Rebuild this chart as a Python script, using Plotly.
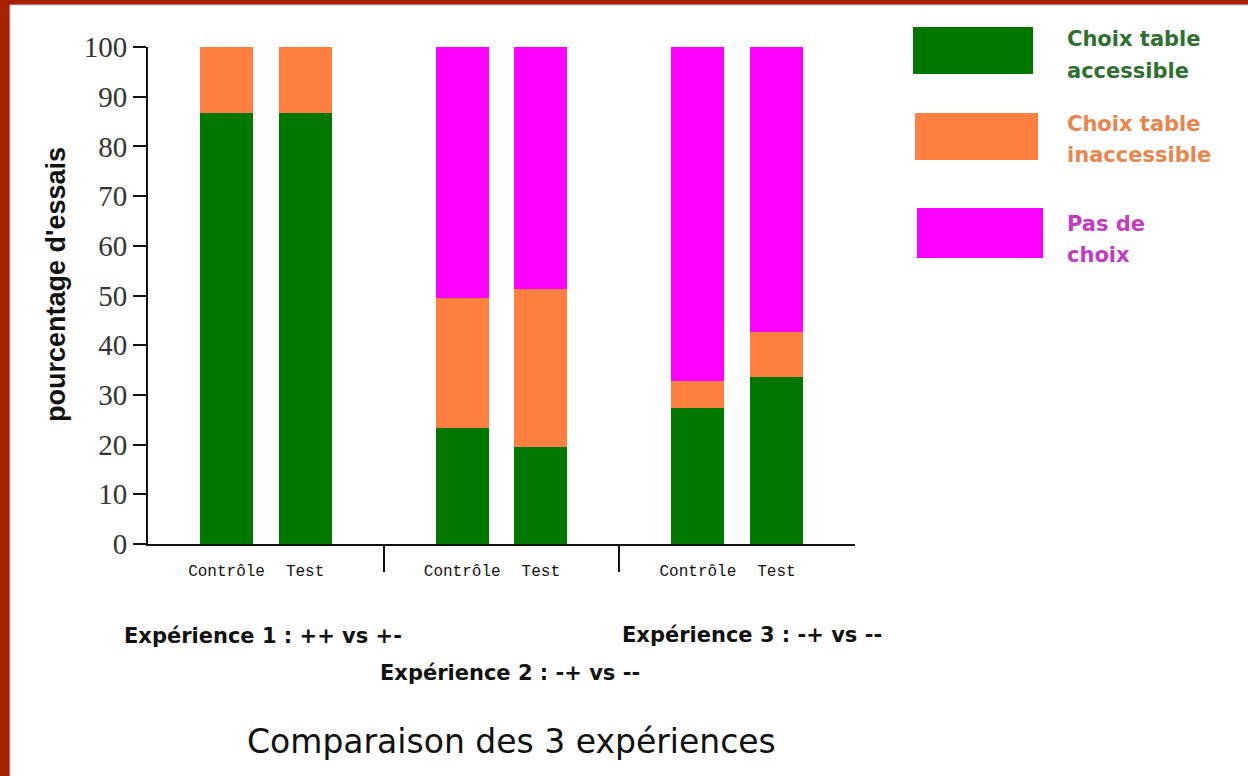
import plotly.graph_objects as go

# ---- data ----
experiences = ["Expérience 1", "Expérience 2", "Expérience 3"]
conditions = ["Contrôle", "Test"]
accessible = [86.7, 86.7, 23.3, 19.5, 27.4, 33.6]
inaccessible = [13.3, 13.3, 26.2, 31.8, 5.4, 9.1]
pas_de_choix = [0.0, 0.0, 50.5, 48.7, 67.2, 57.3]
exp_labels = ["Expérience 1 : ++ vs +-", "Expérience 2 : -+ vs --", "Expérience 3 : -+ vs --"]
series_names = ["Choix table accessible", "Choix table inaccessible", "Pas de choix"]
legend_lines = [["Choix table", "accessible"], ["Choix table", "inaccessible"], ["Pas de", "choix"]]
y_ticks = list(range(0, 101, 10))
chart_title = "Comparaison des 3 expériences"
y_title = "pourcentage d'essais"

# ---- layout helpers ----
W, H = 1248, 776
def px(x):
    return x / W
def py(y):
    return 1 - y / H

GREEN = "#007800"
ORANGE = "#FF7F40"
MAGENTA = "#FF00FF"
colors = [GREEN, ORANGE, MAGENTA]

# x positions: groups separated by a gap of one slot
xpos = [g * 3 + c + 1 for g in range(len(experiences)) for c in range(len(conditions))]
xtext = [c for _ in experiences for c in conditions]

fig = go.Figure()
for name, vals, col in zip(series_names, [accessible, inaccessible, pas_de_choix], colors):
    fig.add_trace(go.Bar(
        x=xpos, y=vals, name=name, width=0.675,
        marker=dict(color=col, line=dict(width=0)),
        showlegend=False,
    ))

shapes = []
# white page area over dark red border
shapes.append(dict(type="rect", xref="paper", yref="paper",
                   x0=px(10), x1=px(W + 5), y0=py(H + 5), y1=py(5),
                   fillcolor="white", line=dict(color="#A9CBF2", width=1), layer="below"))
# legend swatches
sw = [(913, 27, 1033, 74), (915, 113, 1038, 160), (917, 208, 1043, 258)]
for (x0, y0, x1, y1), col in zip(sw, colors):
    shapes.append(dict(type="rect", xref="paper", yref="paper",
                       x0=px(x0), x1=px(x1), y0=py(y1), y1=py(y0),
                       fillcolor=col, line=dict(width=0)))

annotations = []
legend_text_colors = ["#2E7030", "#E8864E", "#C23CC2"]
legend_line_y = [(39, 71), (124, 155), (224, 255)]
for lines, c, ys in zip(legend_lines, legend_text_colors, legend_line_y):
    for t, yc in zip(lines, ys):
        annotations.append(dict(text=t, xref="paper", yref="paper", x=px(1065), y=py(yc),
                                xanchor="left", yanchor="middle", align="left", showarrow=False,
                                font=dict(family="DejaVu Sans", size=21, color=c, weight="bold")))

exp_pos = [(263, 636), (510, 673), (752, 635)]
for t, (x, y) in zip(exp_labels, exp_pos):
    annotations.append(dict(text=t, xref="paper", yref="paper", x=px(x), y=py(y),
                            xanchor="center", yanchor="middle", showarrow=False,
                            font=dict(family="DejaVu Sans", size=21, color="#111", weight="bold")))

annotations.append(dict(text=chart_title, xref="paper", yref="paper", x=px(511), y=py(741),
                        xanchor="center", yanchor="middle", showarrow=False,
                        font=dict(family="DejaVu Sans", size=33, color="#111")))
annotations.append(dict(text=y_title, xref="paper", yref="paper", x=px(56), y=py(285),
                        xanchor="center", yanchor="middle", showarrow=False, textangle=-90,
                        font=dict(family="Liberation Sans", size=27, color="#111", weight="bold")))

fig.update_layout(
    width=W, height=H,
    margin=dict(l=0, r=0, t=0, b=0),
    paper_bgcolor="#A82200",
    plot_bgcolor="rgba(0,0,0,0)",
    barmode="stack",
    bargap=0,
    shapes=shapes,
    annotations=annotations,
    xaxis=dict(domain=[px(148), px(855)], range=[0, 9], automargin=False,
               showline=True, linecolor="#111", linewidth=2, showgrid=False, zeroline=False,
               tickmode="array", tickvals=xpos, ticktext=xtext, ticks="",
               ticklabelstandoff=11,
               tickfont=dict(family="Liberation Mono", size=16, color="#111"),
               minor=dict(tickmode="array", tickvals=[3, 6], ticks="outside",
                          ticklen=26, tickwidth=2, tickcolor="#111")),
    yaxis=dict(domain=[py(544), py(47)], range=[0, 100], automargin=False,
               showline=True, linecolor="#111", linewidth=2, showgrid=False, zeroline=False,
               tickmode="array", tickvals=y_ticks, ticks="outside", ticklen=13,
               tickwidth=2, tickcolor="#111",
               tickfont=dict(family="Liberation Serif", size=29, color="#333")),
)

fig.write_html("out.html", config={"displayModeBar": False},
               post_script="document.body.style.margin='0';")
